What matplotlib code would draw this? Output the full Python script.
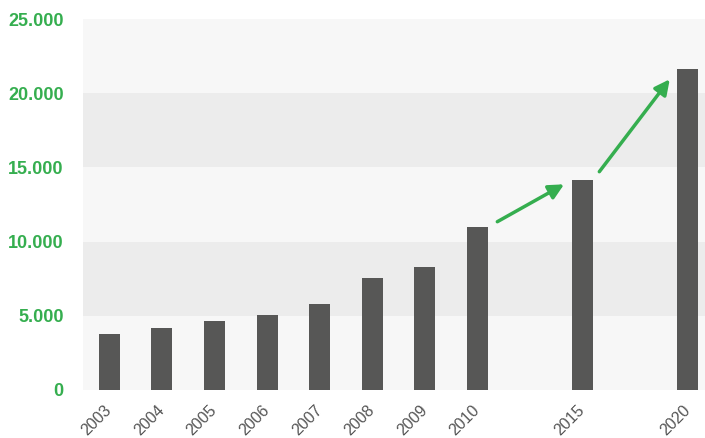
import matplotlib
matplotlib.use("Agg")
import matplotlib.pyplot as plt
from matplotlib.ticker import FuncFormatter, FixedLocator

years = ["2003", "2004", "2005", "2006", "2007", "2008", "2009", "2010", "2015", "2020"]
positions = [0, 1, 2, 3, 4, 5, 6, 7, 9, 11]
values = [3800, 4200, 4650, 5050, 5800, 7550, 8300, 11000, 14150, 21600]
y_ticks = [0, 5000, 10000, 15000, 20000, 25000]

GREEN = "#35ae4f"
BAR = "#575756"

plt.rcParams['font.family'] = ['Liberation Sans', 'DejaVu Sans']

fig = plt.figure(figsize=(7.05, 4.38), dpi=100)
ax = fig.add_axes([83/705, 48/438, 1 - 83/705, (390-19)/438])

# alternating bands
for i in range(len(y_ticks) - 1):
    ax.axhspan(y_ticks[i], y_ticks[i+1], color="#f7f7f7" if i % 2 == 0 else "#ececec", zorder=0, lw=0)

ax.bar(positions, values, width=0.4, color=BAR, zorder=2)

ax.set_xlim(-0.5, 11.33)
ax.set_ylim(0, 25000)
ax.yaxis.set_major_locator(FixedLocator(y_ticks))
ax.yaxis.set_major_formatter(FuncFormatter(lambda v, p: f"{int(v):,}".replace(",", ".")))
ax.set_xticks(positions)
ax.set_xticklabels(years, rotation=45, ha="right", va="center", rotation_mode="anchor",
                   color="#555555", fontsize=11.5)
for lab in ax.get_yticklabels():
    lab.set_color(GREEN)
    lab.set_fontweight("bold")
    lab.set_fontsize(13)
ax.tick_params(axis="both", length=0)
ax.tick_params(axis="y", pad=14)
ax.tick_params(axis="x", pad=13)
for s in ax.spines.values():
    s.set_visible(False)

arrow_kw = dict(arrowstyle="-|>,head_length=0.9,head_width=0.45", color=GREEN, lw=2.5, shrinkA=0, shrinkB=0)
ax.annotate("", xy=(8.65, 13860), xytext=(7.38, 11340), arrowprops=arrow_kw, zorder=3)
ax.annotate("", xy=(10.66, 20940), xytext=(9.32, 14710), arrowprops=arrow_kw, zorder=3)

fig.savefig("out.png", dpi=100)
